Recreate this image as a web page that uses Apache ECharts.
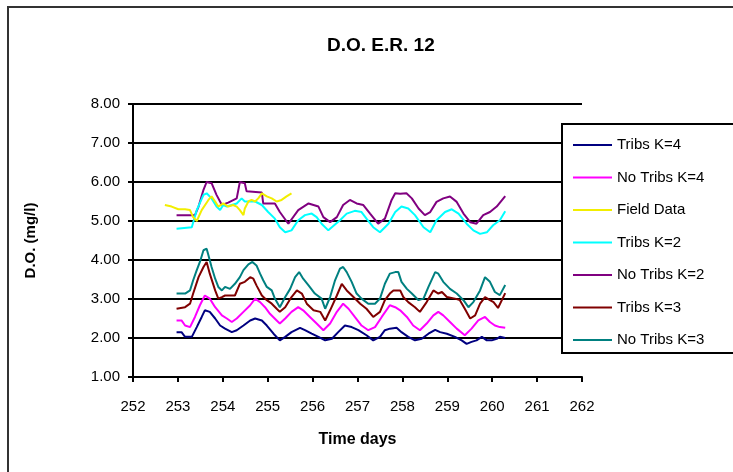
<!DOCTYPE html>
<html>
<head>
<meta charset="utf-8">
<script src="https://cdn.jsdelivr.net/npm/echarts@6/dist/echarts.min.js"></script>
<style>
  html, body { margin: 0; padding: 0; background: #fff; }
  #c1 { width: 733px; height: 472px; }
</style>
</head>
<body>
<div id="c1"></div>
<script>
// x ticks / y ticks
var xTicks = [252, 262];
var yTicks = [1, 8];
var seriesNames = ['Tribs K=4', 'No Tribs K=4', 'Field Data', 'Tribs K=2', 'No Tribs K=2', 'Tribs K=3', 'No Tribs K=3'];

// [time day, D.O. mg/l]
var tribsK4 = [[252.97,2.15],[253.08,2.15],[253.16,2.03],[253.31,2.03],[253.42,2.28],[253.53,2.54],[253.60,2.71],[253.71,2.67],[253.83,2.50],[253.94,2.32],[254.05,2.24],[254.20,2.15],[254.31,2.20],[254.46,2.32],[254.61,2.45],[254.72,2.50],[254.87,2.45],[254.98,2.32],[255.13,2.11],[255.27,1.94],[255.39,2.03],[255.53,2.15],[255.72,2.26],[255.83,2.20],[255.98,2.11],[256.13,2.03],[256.28,1.94],[256.43,1.98],[256.57,2.15],[256.72,2.32],[256.87,2.28],[257.02,2.20],[257.20,2.07],[257.35,1.94],[257.50,2.03],[257.61,2.20],[257.72,2.24],[257.87,2.26],[257.98,2.15],[258.13,2.03],[258.28,1.94],[258.43,1.98],[258.58,2.11],[258.73,2.21],[258.84,2.15],[258.99,2.11],[259.17,2.03],[259.32,1.94],[259.43,1.85],[259.54,1.90],[259.65,1.94],[259.77,2.03],[259.88,1.94],[259.99,1.94],[260.10,1.98],[260.17,2.03],[260.29,2.00]];
var noTribsK4 = [[252.97,2.45],[253.08,2.45],[253.16,2.32],[253.27,2.28],[253.38,2.54],[253.49,2.84],[253.60,3.09],[253.71,3.01],[253.83,2.79],[253.98,2.58],[254.09,2.50],[254.20,2.41],[254.31,2.50],[254.46,2.67],[254.61,2.84],[254.72,3.01],[254.83,2.92],[254.94,2.79],[255.05,2.62],[255.20,2.45],[255.27,2.37],[255.39,2.50],[255.53,2.67],[255.68,2.79],[255.79,2.71],[255.94,2.54],[256.09,2.37],[256.24,2.20],[256.39,2.37],[256.54,2.67],[256.68,2.88],[256.80,2.75],[256.94,2.54],[257.09,2.32],[257.24,2.20],[257.39,2.28],[257.54,2.54],[257.72,2.84],[257.84,2.79],[257.95,2.71],[258.10,2.54],[258.24,2.32],[258.39,2.20],[258.54,2.37],[258.69,2.58],[258.80,2.67],[258.91,2.58],[259.06,2.41],[259.21,2.24],[259.39,2.07],[259.54,2.24],[259.69,2.45],[259.84,2.54],[259.95,2.41],[260.06,2.32],[260.17,2.28],[260.29,2.26]];
var fieldData = [[252.71,5.41],[252.86,5.37],[253.01,5.30],[253.16,5.30],[253.27,5.28],[253.34,5.10],[253.42,5.00],[253.53,5.28],[253.68,5.54],[253.75,5.63],[253.83,5.50],[253.90,5.37],[254.01,5.45],[254.12,5.37],[254.23,5.41],[254.31,5.37],[254.38,5.28],[254.46,5.15],[254.49,5.32],[254.57,5.50],[254.64,5.54],[254.72,5.50],[254.79,5.58],[254.87,5.71],[254.98,5.63],[255.09,5.58],[255.20,5.50],[255.31,5.54],[255.42,5.63],[255.53,5.71]];
var tribsK2 = [[252.97,4.80],[253.31,4.84],[253.42,5.28],[253.57,5.67],[253.64,5.71],[253.75,5.58],[253.86,5.37],[253.94,5.28],[254.01,5.41],[254.09,5.37],[254.20,5.41],[254.31,5.45],[254.42,5.58],[254.49,5.50],[254.72,5.50],[254.87,5.41],[255.01,5.23],[255.16,5.06],[255.27,4.84],[255.39,4.71],[255.53,4.76],[255.68,5.02],[255.83,5.15],[255.98,5.19],[256.09,5.10],[256.20,4.93],[256.35,4.76],[256.39,4.71],[256.61,5.02],[256.76,5.19],[256.94,5.26],[257.09,5.23],[257.20,5.06],[257.35,4.84],[257.50,4.71],[257.69,4.93],[257.84,5.23],[257.98,5.37],[258.13,5.32],[258.28,5.15],[258.47,4.84],[258.62,4.71],[258.76,5.02],[258.95,5.23],[259.10,5.30],[259.25,5.19],[259.43,4.93],[259.58,4.76],[259.73,4.67],[259.88,4.71],[260.02,4.89],[260.17,5.02],[260.29,5.25]];
var noTribsK2 = [[252.97,5.15],[253.38,5.15],[253.46,5.37],[253.57,5.80],[253.64,6.00],[253.75,5.97],[253.86,5.67],[253.98,5.41],[254.12,5.47],[254.31,5.58],[254.38,6.00],[254.49,5.97],[254.53,5.76],[254.87,5.73],[254.90,5.45],[255.16,5.45],[255.27,5.23],[255.46,4.93],[255.68,5.28],[255.91,5.45],[256.13,5.37],[256.24,5.10],[256.39,4.97],[256.54,5.10],[256.68,5.41],[256.83,5.54],[256.98,5.45],[257.13,5.41],[257.28,5.19],[257.46,4.93],[257.61,5.06],[257.76,5.54],[257.84,5.71],[257.95,5.70],[258.09,5.71],[258.21,5.58],[258.36,5.32],[258.50,5.15],[258.62,5.23],[258.76,5.49],[258.91,5.58],[259.06,5.63],[259.21,5.49],[259.36,5.19],[259.51,4.97],[259.65,4.93],[259.80,5.15],[259.95,5.23],[260.10,5.37],[260.29,5.64]];
var tribsK3 = [[252.97,2.75],[253.16,2.79],[253.27,2.88],[253.34,3.14],[253.46,3.56],[253.57,3.82],[253.64,3.95],[253.71,3.65],[253.83,3.22],[253.90,3.01],[253.98,3.05],[254.05,3.09],[254.16,3.09],[254.27,3.09],[254.38,3.39],[254.49,3.44],[254.61,3.56],[254.68,3.52],[254.75,3.35],[254.87,3.09],[254.98,2.97],[255.09,2.88],[255.20,2.75],[255.27,2.67],[255.39,2.79],[255.53,3.05],[255.65,3.22],[255.76,3.14],[255.87,2.88],[256.02,2.71],[256.17,2.67],[256.28,2.45],[256.39,2.71],[256.54,3.09],[256.65,3.39],[256.76,3.22],[256.91,3.05],[257.06,2.88],[257.20,2.75],[257.35,2.54],[257.50,2.67],[257.61,2.97],[257.72,3.14],[257.80,3.22],[257.95,3.22],[258.02,3.05],[258.13,2.92],[258.28,2.79],[258.39,2.67],[258.54,2.92],[258.69,3.22],[258.80,3.14],[258.88,3.18],[258.99,3.05],[259.17,3.01],[259.28,2.97],[259.39,2.75],[259.51,2.50],[259.62,2.58],[259.73,2.88],[259.84,3.05],[259.95,2.97],[260.03,2.92],[260.13,2.77],[260.29,3.15]];
var noTribsK3 = [[252.97,3.14],[253.16,3.14],[253.27,3.22],[253.34,3.48],[253.42,3.74],[253.49,3.95],[253.57,4.25],[253.64,4.29],[253.68,4.12],[253.75,3.82],[253.83,3.52],[253.90,3.31],[253.98,3.22],[254.05,3.31],[254.16,3.26],[254.27,3.39],[254.38,3.56],[254.46,3.74],[254.57,3.89],[254.66,3.95],[254.75,3.86],[254.83,3.65],[254.90,3.48],[254.98,3.31],[255.09,3.22],[255.16,3.01],[255.27,2.79],[255.39,3.05],[255.50,3.26],[255.61,3.56],[255.70,3.69],[255.79,3.52],[255.91,3.35],[256.05,3.14],[256.20,3.01],[256.28,2.75],[256.39,3.05],[256.50,3.48],[256.61,3.78],[256.68,3.82],[256.76,3.69],[256.87,3.44],[256.98,3.14],[257.09,3.01],[257.24,2.88],[257.39,2.88],[257.50,3.01],[257.61,3.39],[257.72,3.65],[257.84,3.69],[257.91,3.69],[257.98,3.44],[258.10,3.26],[258.21,3.14],[258.36,2.97],[258.47,3.01],[258.58,3.31],[258.73,3.69],[258.80,3.65],[258.91,3.44],[259.06,3.26],[259.21,3.14],[259.36,2.97],[259.47,2.79],[259.58,2.92],[259.73,3.22],[259.84,3.56],[259.95,3.44],[260.06,3.18],[260.17,3.10],[260.29,3.36]];

var allData = [tribsK4, noTribsK4, fieldData, tribsK2, noTribsK2, tribsK3, noTribsK3];
var colors = ['#000080', '#ff00ff', '#f2ee00', '#00ffff', '#800080', '#800000', '#008080'];
var font = 'Arial, "Liberation Sans", sans-serif';

var series = [];
for (var i = 0; i < seriesNames.length; i++) {
  series.push({
    name: seriesNames[i],
    type: 'line',
    data: allData[i],
    symbol: 'none',
    color: colors[i],
    lineStyle: {width: 2, color: colors[i]},
    z: 10 - i
  });
}

var option = {
  animation: false,
  backgroundColor: '#fff',
  textStyle: {fontFamily: font},
  title: {
    text: 'D.O. E.R. 12',
    left: 322,
    top: 31,
    textStyle: {fontSize: 19, fontWeight: 'bold', color: '#000', fontFamily: font}
  },
  graphic: [{
    type: 'rect',
    shape: {x: 8, y: 7, width: 760, height: 500},
    style: {fill: null, stroke: '#333', lineWidth: 2},
    z: 100
  }, {
    type: 'rect',
    shape: {x: 562, y: 124, width: 200, height: 229},
    style: {fill: '#fff', stroke: '#000', lineWidth: 2},
    z: 100
  }],
  legend: {
    orient: 'vertical',
    left: 568,
    top: 131,
    z: 110,
    icon: 'rect',
    itemWidth: 39,
    itemHeight: 2,
    itemGap: 14.5,
    textStyle: {fontSize: 15, color: '#000', lineHeight: 18, fontFamily: font},
    data: seriesNames
  },
  grid: {left: 133, right: 151, top: 104, bottom: 95},
  xAxis: {
    type: 'value',
    min: xTicks[0],
    max: xTicks[1],
    interval: 1,
    name: 'Time days',
    nameLocation: 'middle',
    nameGap: 55,
    nameTextStyle: {fontSize: 16, fontWeight: 'bold', color: '#000', fontFamily: font},
    axisLine: {show: true, onZero: false, lineStyle: {color: '#000', width: 2}},
    axisTick: {show: true, length: 5, lineStyle: {color: '#000', width: 2}},
    axisLabel: {fontSize: 15, color: '#000', margin: 22, fontFamily: font},
    splitLine: {show: false}
  },
  yAxis: {
    type: 'value',
    min: yTicks[0],
    max: yTicks[1],
    interval: 1,
    name: 'D.O. (mg/l)',
    nameLocation: 'middle',
    nameGap: 95,
    nameTextStyle: {fontSize: 15, fontWeight: 'bold', color: '#000', fontFamily: font},
    axisLine: {show: true, lineStyle: {color: '#000', width: 2}},
    axisTick: {show: true, length: 5, lineStyle: {color: '#000', width: 2}},
    axisLabel: {
      fontSize: 15, color: '#000', margin: 13, fontFamily: font,
      formatter: function (v) { return v.toFixed(2); }
    },
    splitLine: {show: true, lineStyle: {color: '#000', width: 2}}
  },
  series: series
};

var myChart = echarts.init(document.getElementById('c1'));
myChart.setOption(option);
window.onresize = myChart.resize;
</script>
</body>
</html>
